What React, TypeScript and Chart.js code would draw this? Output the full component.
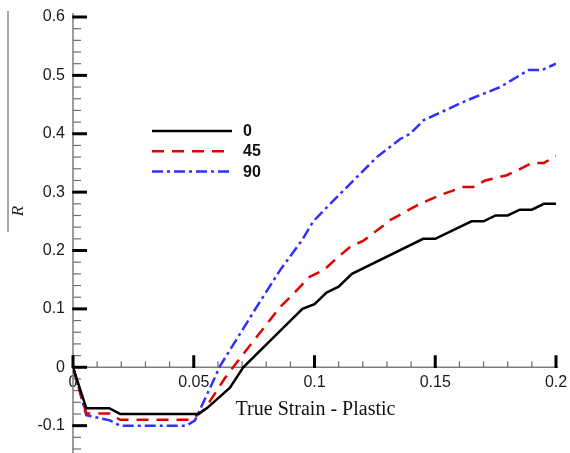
import React, { useEffect, useRef } from 'react';
import { Chart, registerables } from 'chart.js';

Chart.register(...registerables);

// R-bar versus true plastic strain for three orientations (0, 45, 90 degrees)
const strain0 = [0, 0.0055, 0.015, 0.0195, 0.052, 0.0555, 0.065, 0.0705, 0.095, 0.1, 0.105, 0.11, 0.1155, 0.145, 0.15, 0.165, 0.17, 0.175, 0.18, 0.185, 0.19, 0.195, 0.2];
const r0 = [0, -0.07, -0.07, -0.08, -0.08, -0.07, -0.035, 0, 0.1, 0.108, 0.128, 0.138, 0.16, 0.22, 0.22, 0.25, 0.25, 0.26, 0.26, 0.27, 0.27, 0.28, 0.28];

const strain45 = [0, 0.0055, 0.015, 0.0195, 0.049, 0.0545, 0.063, 0.07, 0.0857, 0.0913, 0.098, 0.1037, 0.109, 0.1147, 0.1203, 0.1286, 0.1313, 0.1437, 0.1527, 0.1617, 0.1657, 0.1707, 0.1797, 0.1838, 0.19, 0.195, 0.2];
const r45 = [0, -0.079, -0.079, -0.09, -0.09, -0.072, -0.018, 0.02, 0.103, 0.126, 0.155, 0.166, 0.186, 0.206, 0.217, 0.243, 0.252, 0.28, 0.296, 0.309, 0.309, 0.32, 0.329, 0.337, 0.35, 0.35, 0.362];

const strain90 = [0, 0.0055, 0.0153, 0.0195, 0.047, 0.0505, 0.0588, 0.061, 0.076, 0.0857, 0.0947, 0.0995, 0.1065, 0.1258, 0.1355, 0.1396, 0.1451, 0.163, 0.1769, 0.1886, 0.1941, 0.2];
const r90 = [0, -0.082, -0.091, -0.1, -0.1, -0.091, -0.017, 0.003, 0.103, 0.166, 0.217, 0.25, 0.28, 0.36, 0.391, 0.4, 0.423, 0.457, 0.48, 0.509, 0.509, 0.52];

const seriesLabels = ['0', '45', '90'];
const xTickValues = [0, 0.05, 0.1, 0.15, 0.2];
const yTickValues = [-0.1, 0, 0.1, 0.2, 0.3, 0.4, 0.5, 0.6];
const xTitle = 'True Strain - Plastic';
const yTitle = 'R';

const X_MIN = 0;
const X_MAX = 0.2;
const Y_MIN = -0.14;
const Y_MAX = 0.6;
const X_MINOR_STEP = 0.01;
const Y_MINOR_STEP = 0.02;

const TICK_FONT = '"Liberation Sans", Arial, sans-serif';
const SERIF_FONT = '"Liberation Serif", "Times New Roman", serif';

const toPoints = (xs: number[], ys: number[]) => xs.map((x, i) => ({ x, y: ys[i] }));

const zeroPadding = (s: any) => {
  s.paddingTop = 0;
  s.paddingBottom = 0;
  s.paddingLeft = 0;
  s.paddingRight = 0;
};

// Axis lines, inward tick marks, legend and titles
const decorPlugin = {
  id: 'decor',
  beforeDatasetsDraw(chart: any) {
    const { ctx, chartArea } = chart;
    const xs = chart.scales.x;
    const ys = chart.scales.y;
    const x0 = xs.getPixelForValue(0);
    const y0 = ys.getPixelForValue(0);
    ctx.save();

    // axis lines
    ctx.strokeStyle = '#7d7d7d';
    ctx.lineWidth = 1.5;
    ctx.beginPath();
    ctx.moveTo(x0, chartArea.top - 4);
    ctx.lineTo(x0, chart.height);
    ctx.stroke();
    ctx.beginPath();
    ctx.moveTo(x0, y0);
    ctx.lineTo(xs.getPixelForValue(X_MAX) + 2, y0);
    ctx.stroke();

    // minor ticks
    ctx.strokeStyle = '#6e6e6e';
    ctx.lineWidth = 1.2;
    const nx = Math.round((X_MAX - X_MIN) / X_MINOR_STEP);
    for (let i = 1; i <= nx; i++) {
      if (i % 5 === 0) continue;
      const px = xs.getPixelForValue(X_MIN + i * X_MINOR_STEP);
      ctx.beginPath();
      ctx.moveTo(px, y0);
      ctx.lineTo(px, y0 - 6);
      ctx.stroke();
    }
    const kMin = Math.ceil(Y_MIN / Y_MINOR_STEP - 1e-9);
    const kMax = Math.floor(Y_MAX / Y_MINOR_STEP + 1e-9);
    for (let k = kMin; k <= kMax; k++) {
      if (k % 5 === 0) continue;
      const py = ys.getPixelForValue(k * Y_MINOR_STEP);
      ctx.beginPath();
      ctx.moveTo(x0, py);
      ctx.lineTo(x0 + 8, py);
      ctx.stroke();
    }

    // major ticks
    ctx.strokeStyle = '#000';
    ctx.lineWidth = 3;
    xs.ticks.forEach((t: any) => {
      const px = xs.getPixelForValue(t.value);
      ctx.beginPath();
      ctx.moveTo(px, y0 + 0.75);
      ctx.lineTo(px, y0 - 12);
      ctx.stroke();
    });
    ys.ticks.forEach((t: any) => {
      const py = ys.getPixelForValue(t.value);
      ctx.beginPath();
      ctx.moveTo(x0 - 0.75, py);
      ctx.lineTo(x0 + 14, py);
      ctx.stroke();
    });
    ctx.restore();
  },
  afterDraw(chart: any) {
    const { ctx, chartArea } = chart;
    const xs = chart.scales.x;
    const ys = chart.scales.y;
    ctx.save();

    // legend
    const lx = chartArea.left + 79;
    const ly = chartArea.top + 114;
    chart.data.datasets.forEach((ds: any, i: number) => {
      const yy = ly + i * 20.3;
      ctx.strokeStyle = ds.borderColor;
      ctx.lineWidth = ds.borderWidth;
      ctx.setLineDash(ds.borderDash || []);
      ctx.beginPath();
      ctx.moveTo(lx, yy);
      ctx.lineTo(lx + 80, yy);
      ctx.stroke();
      ctx.setLineDash([]);
      ctx.fillStyle = '#111';
      ctx.font = `bold 16px ${TICK_FONT}`;
      ctx.textAlign = 'left';
      ctx.textBaseline = 'middle';
      ctx.fillText(ds.label, lx + 91, yy + 0.5);
    });

    // x title
    ctx.fillStyle = '#111';
    ctx.font = `20px ${SERIF_FONT}`;
    ctx.textAlign = 'center';
    ctx.textBaseline = 'alphabetic';
    ctx.fillText(xTitle, xs.getPixelForValue(0.1) + 1, ys.getPixelForValue(0) + 48);

    // y title: R with overline, rotated
    ctx.strokeStyle = '#8a8a8a';
    ctx.lineWidth = 1.5;
    ctx.beginPath();
    ctx.moveTo(8, 11);
    ctx.lineTo(8, 232);
    ctx.stroke();
    ctx.translate(19, 211);
    ctx.rotate(-Math.PI / 2);
    ctx.font = `italic 17px ${SERIF_FONT}`;
    ctx.textAlign = 'center';
    ctx.textBaseline = 'middle';
    ctx.fillStyle = '#222';
    ctx.fillText(yTitle, 0, 0);
    ctx.restore();
  },
};

export default function App() {
  const canvasRef = useRef<HTMLCanvasElement | null>(null);

  useEffect(() => {
    if (!canvasRef.current) return;
    const chart = new Chart(canvasRef.current, {
      type: 'line',
      data: {
        datasets: [
          {
            label: seriesLabels[0],
            data: toPoints(strain0, r0),
            borderColor: '#000000',
            borderWidth: 2.5,
            borderDash: [],
            pointRadius: 0,
            tension: 0,
            fill: false,
          },
          {
            label: seriesLabels[1],
            data: toPoints(strain45, r45),
            borderColor: '#e00000',
            borderWidth: 2.5,
            borderDash: [12, 8],
            pointRadius: 0,
            tension: 0,
            fill: false,
          },
          {
            label: seriesLabels[2],
            data: toPoints(strain90, r90),
            borderColor: '#2f2fff',
            borderWidth: 2.5,
            borderDash: [11, 4, 3, 4],
            pointRadius: 0,
            tension: 0,
            fill: false,
          },
        ],
      },
      options: {
        animation: false,
        responsive: true,
        maintainAspectRatio: false,
        parsing: false,
        layout: { padding: { top: 17, right: 14, bottom: 4, left: 0 } },
        plugins: {
          legend: { display: false },
          tooltip: { enabled: false },
        },
        scales: {
          x: {
            type: 'linear',
            min: X_MIN,
            max: X_MAX,
            position: { y: 0 } as any,
            afterFit: (s: any) => {
              s.height = 0;
              zeroPadding(s);
            },
            afterBuildTicks: (s: any) => {
              s.ticks = xTickValues.map((v) => ({ value: v }));
            },
            grid: { display: false, drawTicks: false },
            border: { display: false },
            ticks: {
              padding: 6,
              color: '#1a1a1a',
              font: { family: TICK_FONT, size: 16 },
              maxRotation: 0,
              autoSkip: false,
              callback: (v: any) => String(v),
            },
          },
          y: {
            type: 'linear',
            min: Y_MIN,
            max: Y_MAX,
            position: 'left',
            afterFit: (s: any) => {
              s.width = 73;
              zeroPadding(s);
            },
            afterBuildTicks: (s: any) => {
              s.ticks = yTickValues.map((v) => ({ value: v }));
            },
            grid: { display: false, drawTicks: false },
            border: { display: false },
            ticks: {
              padding: 8,
              color: '#1a1a1a',
              font: { family: TICK_FONT, size: 16 },
              autoSkip: false,
              callback: (v: any) => String(v),
            },
          },
        },
      },
      plugins: [decorPlugin],
    });
    return () => chart.destroy();
  }, []);

  return (
    <div style={{ position: 'absolute', left: 0, top: 0, width: 570, height: 453 }}>
      <canvas ref={canvasRef} />
    </div>
  );
}
